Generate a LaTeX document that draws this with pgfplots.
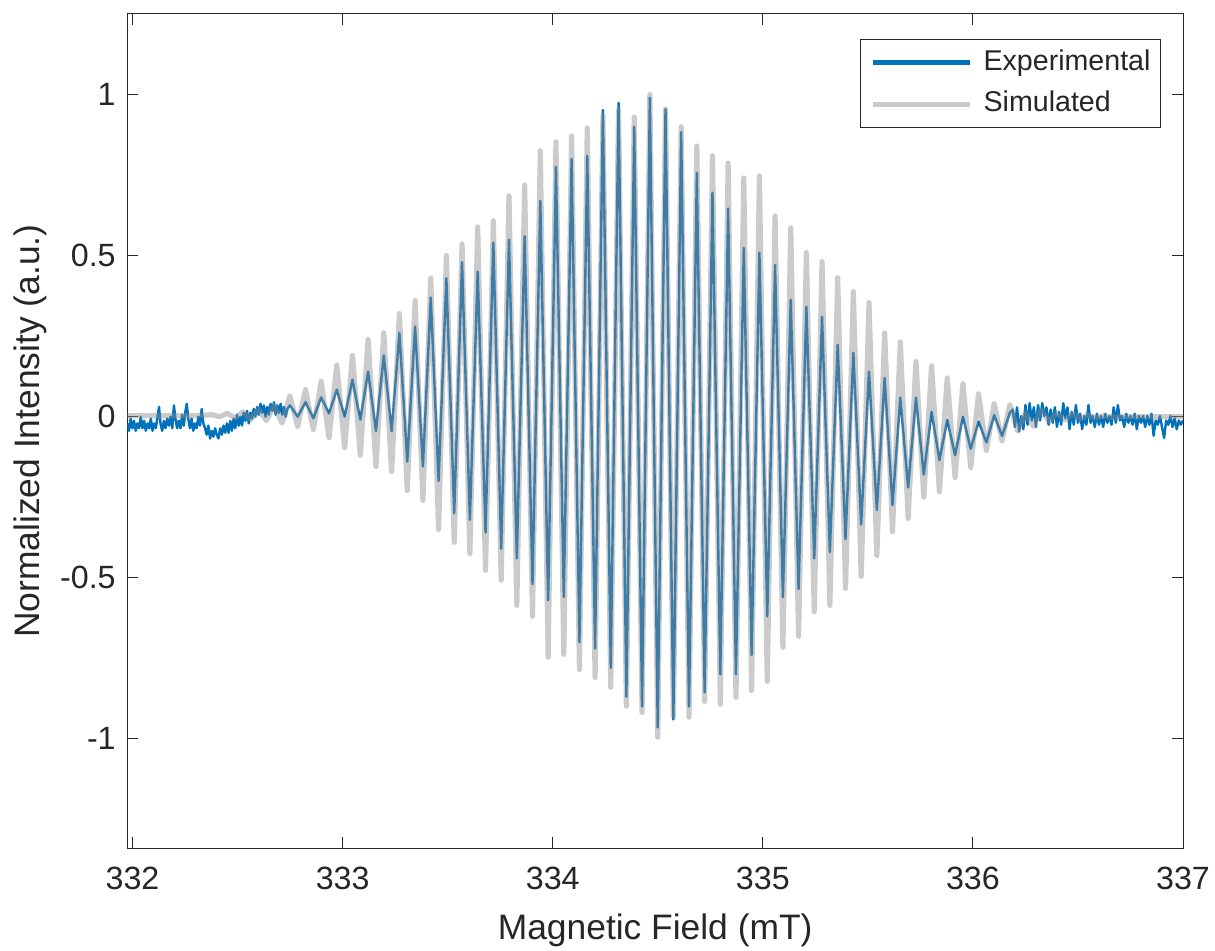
\documentclass[border=0pt]{standalone}
\usepackage{fontspec}
\setmainfont{Liberation Sans}
\usepackage{pgfplots}
\pgfplotsset{compat=1.18}
\definecolor{mblue}{rgb}{0,0.447,0.741}
\definecolor{axgray}{rgb}{0.15,0.15,0.15}
\definecolor{simgray}{rgb}{0.55,0.55,0.55}
\begin{document}
\begin{tikzpicture}
\begin{axis}[
  scale only axis, width=527.85pt, height=417.15pt,
  xmin=331.975, xmax=337, ymin=-1.34, ymax=1.25,
  xtick={332,333,334,335,336,337}, xticklabels={332,333,334,335,336,337},
  ytick={-1,-0.5,0,0.5,1}, yticklabels={-1,-0.5,0,0.5,1},
  tick align=inside, tick pos=both, major tick length=5.5pt,
  tick style={axgray, line width=0.5pt},
  axis line style={axgray, line width=0.5pt},
  ticklabel style={font=\fontsize{16.1}{19}\selectfont, text=axgray},
  xticklabel style={yshift=-6pt},
  yticklabel style={xshift=-2.3pt},
  xlabel={Magnetic Field (mT)}, ylabel={Normalized Intensity (a.u.)},
  label style={font=\fontsize{17.7}{21}\selectfont, text=axgray},
  xlabel style={at={(axis description cs:0.5,-0.1099)}, anchor=base},
  ylabel style={at={(axis description cs:-0.0832,0.5)}, anchor=base},
  legend style={at={(axis description cs:1,1)}, anchor=north east, xshift=-11pt, yshift=-12.5pt,
    draw=axgray, line width=0.5pt, fill=white, font=\fontsize{14.3}{17}\selectfont, text=axgray,
    inner xsep=5pt, inner ysep=1.1pt, column sep=5.4pt, row sep=0pt,
    nodes={inner xsep=0pt, inner ysep=3.7pt, text height=10.5pt, text depth=3pt}},
  legend cell align=left,
  legend image code/.code={\draw[#1, line width=2.5pt] (0pt,0pt) -- (48.5pt,0pt);},
]
\addplot[color=mblue, line width=1.2pt, line join=round] table {
x y
331.975 -0.021
331.983 -0.044
331.991 -0.006
331.999 -0.036
332.007 -0.013
332.015 -0.044
332.023 -0.021
332.031 -0.036
332.039 0.0
332.047 -0.036
332.055 -0.013
332.063 -0.044
332.071 -0.021
332.079 -0.036
332.087 -0.006
332.095 -0.044
332.103 -0.021
332.111 -0.036
332.119 0.0
332.126 0.03
332.133 -0.021
332.141 -0.044
332.149 -0.013
332.157 -0.036
332.165 -0.006
332.173 -0.028
332.181 0.0
332.189 -0.036
332.197 0.035
332.204 -0.006
332.212 -0.036
332.220 -0.013
332.228 -0.036
332.236 0.006
332.244 -0.028
332.252 0.018
332.258 0.04
332.265 -0.006
332.273 -0.036
332.281 -0.006
332.289 -0.044
332.297 -0.021
332.305 -0.036
332.313 0.0
332.321 -0.028
332.329 0.024
332.337 -0.021
332.345 -0.036
332.353 -0.056
332.361 -0.028
332.369 -0.068
332.377 -0.044
332.385 -0.062
332.393 -0.036
332.401 -0.056
332.409 -0.068
332.417 -0.036
332.425 -0.056
332.433 -0.028
332.441 -0.05
332.449 -0.021
332.457 -0.05
332.465 -0.013
332.473 -0.044
332.481 -0.006
332.489 -0.036
332.497 0.006
332.505 -0.028
332.513 0.0
332.521 -0.028
332.529 0.012
332.537 -0.013
332.545 0.018
332.553 -0.021
332.561 0.012
332.569 -0.006
332.577 0.024
332.585 0.0
332.593 0.03
332.601 0.006
332.609 0.04
332.617 0.012
332.625 0.035
332.633 0.0
332.641 0.03
332.649 0.006
332.657 0.04
332.665 0.018
332.673 0.045
332.681 0.006
332.689 0.035
332.697 0.012
332.705 0.04
332.713 0.006
332.721 0.03
332.729 0.0
332.737 0.024
332.7488 0.035
332.7861 0.0
332.8233 0.045
332.8606 -0.005
332.8978 0.06
332.9351 0.01
332.9723 0.084
333.0096 0.0
333.0468 0.115
333.0841 -0.01
333.1213 0.14
333.1586 -0.045
333.1958 0.19
333.2331 -0.045
333.2703 0.26
333.3076 -0.14
333.3448 0.28
333.3821 -0.155
333.4193 0.37
333.4566 -0.2
333.4938 0.43
333.5311 -0.3
333.5683 0.48
333.6056 -0.32
333.6428 0.45
333.6801 -0.36
333.7173 0.54
333.7546 -0.41
333.7918 0.55
333.8291 -0.44
333.8663 0.56
333.9036 -0.52
333.9408 0.67
333.9781 -0.57
334.0153 0.775
334.0526 -0.56
334.0898 0.80
334.1271 -0.70
334.1643 0.81
334.2016 -0.72
334.2388 0.952
334.2761 -0.78
334.3133 0.974
334.3506 -0.87
334.3878 0.90
334.4251 -0.90
334.4623 0.99
334.4996 -0.965
334.5368 0.955
334.5741 -0.94
334.6113 0.884
334.6486 -0.90
334.6858 0.757
334.7231 -0.856
334.7603 0.695
334.7976 -0.80
334.8348 0.646
334.8721 -0.80
334.9093 0.524
334.9466 -0.74
334.9838 0.509
335.0211 -0.62
335.0583 0.471
335.0956 -0.56
335.1328 0.363
335.1701 -0.535
335.2073 0.341
335.2446 -0.44
335.2818 0.31
335.3191 -0.42
335.3563 0.223
335.3936 -0.38
335.4308 0.198
335.4681 -0.335
335.5053 0.14
335.5426 -0.29
335.5798 0.12
335.6171 -0.275
335.6543 0.059
335.6916 -0.22
335.7288 0.059
335.7661 -0.18
335.8033 0.015
335.8406 -0.135
335.8778 -0.01
335.9151 -0.12
335.9523 0.0
335.9896 -0.1
336.0268 -0.015
336.0641 -0.08
336.1013 0.005
336.1386 -0.06
336.1758 0.012
336.19 0.022
336.20 -0.032
336.21 0.029
336.22 -0.046
336.23 0.002
336.24 -0.039
336.25 0.036
336.26 -0.025
336.27 0.042
336.28 -0.012
336.29 0.029
336.30 -0.032
336.31 0.036
336.32 -0.012
336.33 0.042
336.34 0.002
336.35 0.029
336.36 -0.025
336.37 0.022
336.38 -0.019
336.39 0.029
336.40 -0.032
336.41 0.015
336.42 -0.025
336.43 0.042
336.44 -0.005
336.45 0.029
336.46 -0.039
336.47 0.015
336.48 -0.025
336.49 0.036
336.50 -0.019
336.51 0.009
336.52 -0.039
336.53 0.002
336.54 -0.025
336.55 0.036
336.56 -0.019
336.57 0.002
336.58 -0.032
336.59 0.009
336.60 -0.025
336.61 0.002
336.62 -0.032
336.63 0.009
336.64 -0.019
336.65 0.002
336.66 -0.025
336.67 0.029
336.68 -0.019
336.69 0.036
336.70 -0.012
336.71 0.002
336.72 -0.032
336.73 0.009
336.74 -0.019
336.75 0.002
336.76 -0.025
336.77 0.009
336.78 -0.039
336.79 0.002
336.80 -0.019
336.81 0.002
336.82 -0.032
336.83 0.002
336.84 -0.025
336.85 0.009
336.86 -0.059
336.87 -0.012
336.88 -0.025
336.89 0.002
336.90 -0.032
336.91 -0.066
336.92 -0.012
336.93 -0.025
336.94 0.002
336.95 -0.032
336.96 -0.005
336.97 -0.039
336.98 -0.012
336.99 -0.025
337.00 -0.012
};
\addlegendentry{Experimental}
\addplot[color=simgray, line width=2.6pt, opacity=0.45, line join=round] table {
x y
331.975 0.003
332.30 0.003
332.3763 0.006
332.4136 0.0
332.4508 0.01
332.4881 -0.004
332.5253 0.015
332.5626 -0.008
332.5998 0.022
332.6371 -0.012
332.6743 0.035
332.7116 -0.02
332.7488 0.065
332.7861 -0.03
332.8233 0.084
332.8606 -0.04
332.8978 0.11
332.9351 -0.065
332.9723 0.16
333.0096 -0.096
333.0468 0.19
333.0841 -0.12
333.1213 0.24
333.1586 -0.155
333.1958 0.26
333.2331 -0.17
333.2703 0.32
333.3076 -0.23
333.3448 0.36
333.3821 -0.26
333.4193 0.43
333.4566 -0.35
333.4938 0.50
333.5311 -0.39
333.5683 0.536
333.6056 -0.425
333.6428 0.589
333.6801 -0.477
333.7173 0.608
333.7546 -0.508
333.7918 0.685
333.8291 -0.586
333.8663 0.719
333.9036 -0.62
333.9408 0.825
333.9781 -0.747
334.0153 0.853
334.0526 -0.738
334.0898 0.871
334.1271 -0.785
334.1643 0.896
334.2016 -0.81
334.2388 0.935
334.2761 -0.84
334.3133 0.955
334.3506 -0.899
334.3878 0.93
334.4251 -0.918
334.4623 1.0
334.4996 -0.995
334.5368 0.955
334.5741 -0.93
334.6113 0.90
334.6486 -0.933
334.6858 0.84
334.7231 -0.884
334.7603 0.81
334.7976 -0.893
334.8348 0.787
334.8721 -0.871
334.9093 0.741
334.9466 -0.85
334.9838 0.747
335.0211 -0.822
335.0583 0.623
335.0956 -0.716
335.1328 0.586
335.1701 -0.682
335.2073 0.509
335.2446 -0.605
335.2818 0.481
335.3191 -0.586
335.3563 0.431
335.3936 -0.533
335.4308 0.388
335.4681 -0.496
335.5053 0.354
335.5426 -0.431
335.5798 0.260
335.6171 -0.357
335.6543 0.232
335.6916 -0.316
335.7288 0.171
335.7661 -0.25
335.8033 0.158
335.8406 -0.233
335.8778 0.12
335.9151 -0.189
335.9523 0.102
335.9896 -0.158
336.0268 0.071
336.0641 -0.105
336.1013 0.04
336.1386 -0.075
336.1758 0.037
336.2131 -0.045
336.2503 0.012
336.2876 -0.03
336.3248 0.02
336.3621 -0.015
336.3993 0.012
336.4366 -0.01
336.4738 0.008
336.5111 -0.006
336.5483 0.005
336.5856 -0.004
336.6228 0.003
336.6601 -0.002
336.70 0.0
337.0 0.0
};
\addlegendentry{Simulated}
\end{axis}
\pgfresetboundingbox
\path ([xshift=-63.65pt,yshift=-51.35pt]current axis.south west) rectangle ([xshift=16pt,yshift=7pt]current axis.north east);
\end{tikzpicture}
\end{document}
